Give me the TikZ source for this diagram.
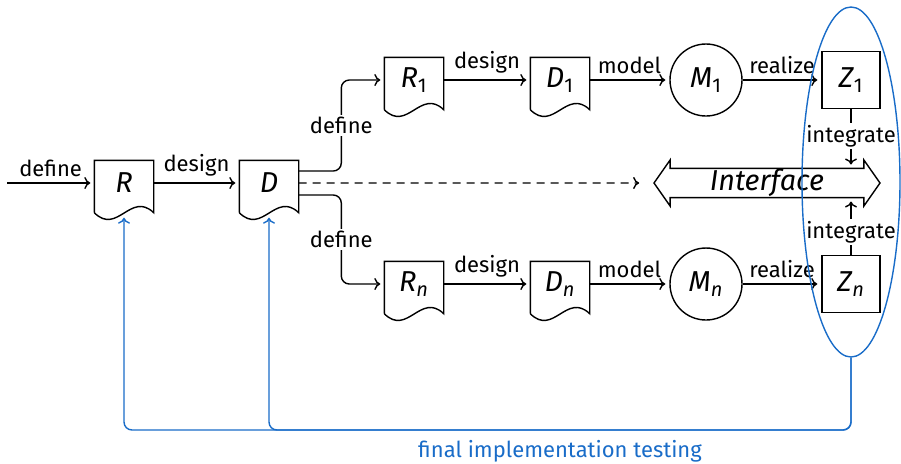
\documentclass[tikz,border=0pt]{standalone}
\usepackage{fontspec}
\setmainfont{Fira Sans}
\usetikzlibrary{arrows.meta,calc,shapes.geometric,shapes.arrows}
\definecolor{testblue}{RGB}{25,108,200}

\begin{document}
\begin{tikzpicture}[x=0.5pt,y=-0.5pt,>={To[length=3pt,width=6pt]},line width=0.7pt,
    font=\fontsize{11}{13}\selectfont,
    doc/.style={minimum width=29pt,minimum height=22pt,inner sep=0pt,font=\Large},
    model/.style={circle,draw,minimum size=36pt,inner sep=0pt,font=\Large},
    impl/.style={rectangle,draw,minimum width=29pt,minimum height=28.5pt,inner sep=0pt,font=\Large},
    flow/.style={->,shorten >=2pt},
    tag/.style={fill=white,inner sep=1pt},
    fb/.style={testblue,->,rounded corners=4pt}]
  \useasboundingbox (0,0) rectangle (901,463);
  % documents
  \node[doc] (R) at (124,183) {\textit{R}};
  \node[doc] (D) at (269,183) {\textit{D}};
  \node[doc] (R1) at (414,80) {\textit{R}\textsubscript{1}};
  \node[doc] (D1) at (560,80) {\textit{D}\textsubscript{1}};
  \node[doc] (Rn) at (414,284) {\textit{R}\textsubscript{\textit{n}}};
  \node[doc] (Dn) at (560,284) {\textit{D}\textsubscript{\textit{n}}};
  \foreach \n in {R,D,R1,D1,Rn,Dn}
    \draw ($(\n.south west)+(0,-3.5pt)$) |- (\n.north east) -- ($(\n.south east)+(0,-3.5pt)$)
      .. controls +(-11.5pt,11pt) and +(11.5pt,-11.5pt) .. ($(\n.south west)+(0,-3.5pt)$);
  % models, implementations, interface
  \node[model] (M1) at (706,80) {\textit{M}\textsubscript{1}};
  \node[model] (Mn) at (706,284) {\textit{M}\textsubscript{\textit{n}}};
  \node[impl] (Z1) at (851,80) {\textit{Z}\textsubscript{1}};
  \node[impl] (Zn) at (851,284) {\textit{Z}\textsubscript{\textit{n}}};
  \node[double arrow,draw,fill=white,minimum height=113pt,minimum width=23pt,
    double arrow head extend=4.25pt,double arrow tip angle=110,inner sep=0pt,
    font=\Large\itshape] (IF) at (767,183) {Interface};
  \coordinate (in) at (7,183);
  \coordinate (bot) at (0,430);
  \coordinate (IFtop) at ($(IF.center)+(0,7.25pt)$);
  \coordinate (IFbot) at ($(IF.center)+(0,-7.25pt)$);
  % main flow
  \draw[flow] (in) -- node[above=-0.5pt]{define} (R);
  \draw[flow] (R) -- node[above=-0.5pt]{design} (D);
  \draw[flow,rounded corners=4pt] ([yshift=6pt]D.east) -| node[pos=0.75,tag]{define}
    ([xshift=-21.5pt]R1.west) -- (R1.west);
  \draw[flow,rounded corners=4pt] ([yshift=-6pt]D.east) -| node[pos=0.75,tag]{define}
    ([xshift=-21.5pt]Rn.west) -- (Rn.west);
  \draw[flow,dash pattern=on 4pt off 3pt,shorten >=7pt] (D) -- (IF);
  \foreach \i in {1,n} {
    \draw[flow] (R\i) -- node[above=-0.5pt]{design} (D\i);
    \draw[flow] (D\i) -- node[above=-0.5pt]{model} (M\i);
    \draw[flow] (M\i) -- node[above=-0.5pt]{realize} (Z\i);
  }
  \draw[flow] (Z1) -- node[pos=0.45,tag]{integrate} (Z1 |- IFtop);
  \draw[flow] (Zn) -- node[pos=0.4,tag]{integrate} (Zn |- IFbot);
  % final testing
  \node[ellipse,draw=testblue,minimum width=49pt,minimum height=175pt,inner sep=0pt] (grp) at (851,182) {};
  \draw[fb] (grp.south) -- (grp.south |- bot) -- node[below=1.5pt]{final implementation testing}
    (D |- bot) -- ([yshift=-6pt]D.south);
  \draw[fb] (grp.south) -- (grp.south |- bot) -- (R |- bot) -- ([yshift=-6pt]R.south);
\end{tikzpicture}
\end{document}
